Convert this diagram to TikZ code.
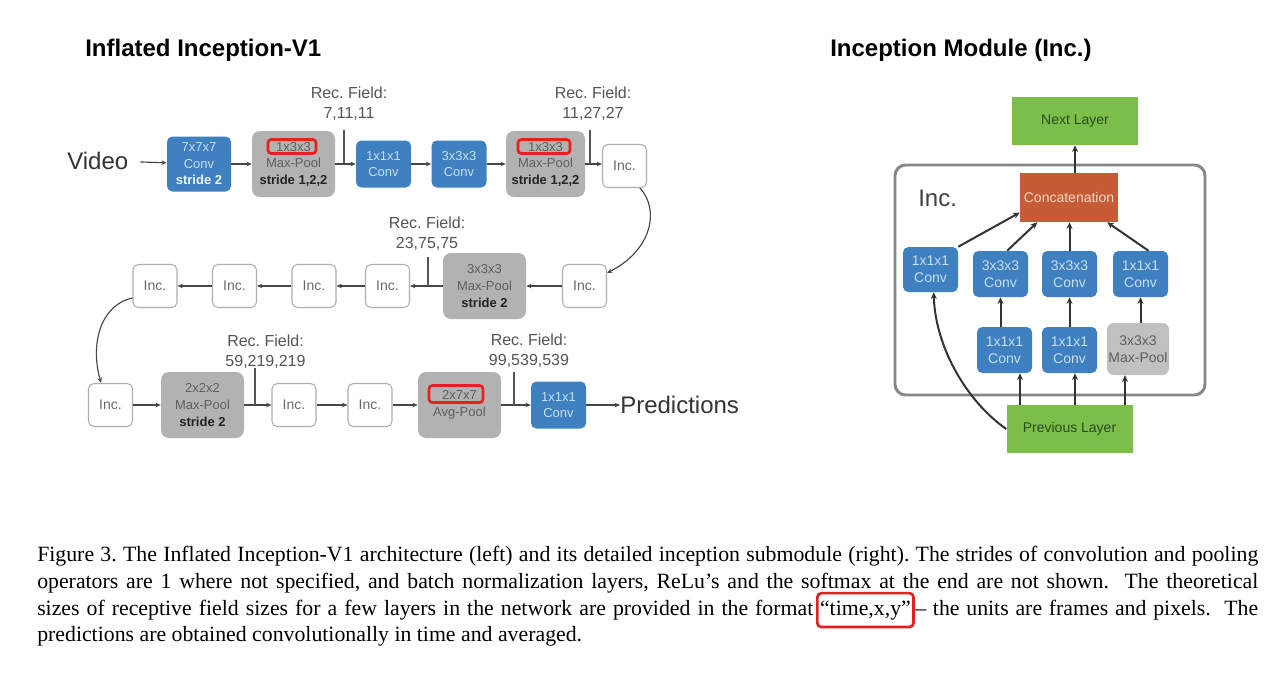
\documentclass[tikz,border=0pt]{standalone}
\usepackage{fontspec}
\setmainfont{Liberation Sans}
\newfontfamily\capfont{Liberation Serif}
\usetikzlibrary{arrows.meta,calc}
\definecolor{cblue}{RGB}{62,128,192}
\definecolor{cbluetxt}{RGB}{200,222,242}
\definecolor{cbluebold}{RGB}{236,244,252}
\definecolor{cgray}{RGB}{178,178,178}
\definecolor{cgraytxt}{RGB}{95,95,95}
\definecolor{cgraybold}{RGB}{35,35,35}
\definecolor{cgrayR}{RGB}{192,192,192}
\definecolor{cinc}{RGB}{175,175,175}
\definecolor{cinctxt}{RGB}{105,105,105}
\definecolor{cgreen}{RGB}{124,190,74}
\definecolor{cgreentxt}{RGB}{40,78,28}
\definecolor{corange}{RGB}{196,92,54}
\definecolor{corangetxt}{RGB}{248,214,198}
\definecolor{cred}{RGB}{228,32,32}
\definecolor{cline}{RGB}{70,70,70}
\definecolor{crf}{RGB}{85,85,85}
\definecolor{couter}{RGB}{135,135,135}
\begin{document}
\frenchspacing
\begin{tikzpicture}[x=0.75pt,y=-0.75pt,
  boxfont/.style={font=\fontsize{9.75pt}{12.4pt}\selectfont},
  rfont/.style={font=\fontsize{10.5pt}{12.75pt}\selectfont},
  bluebox/.style={boxfont, fill=cblue, rounded corners=4pt, text=cbluetxt, align=center, inner sep=0pt, minimum width=41.25pt, minimum height=35.25pt},
  graybox/.style={boxfont, fill=cgray, rounded corners=6pt, text=cgraytxt, align=center, inner sep=0pt, minimum width=62.25pt, minimum height=49.5pt},
  incbox/.style={font=\fontsize{10.5pt}{12pt}\selectfont, draw=cinc, line width=0.8pt, fill=white, rounded corners=4pt, text=cinctxt, inner sep=0pt, minimum width=33pt, minimum height=32.25pt},
  redhl/.style={draw=cred, line width=2pt, rounded corners=2.5pt, inner sep=0pt},
  rflabel/.style={font=\fontsize{12pt}{15pt}\selectfont, text=crf, align=center, inner sep=0pt},
  rfline/.style={draw=crf, line width=0.8pt},
  arr/.style={draw=cline, line width=0.85pt, -{Stealth[length=4pt,width=3.4pt]}},
  arrR/.style={draw=black!80, line width=1.5pt, -{Stealth[length=5pt,width=4.5pt]}},
  rblue/.style={rfont, fill=cblue, rounded corners=4pt, text=cbluetxt, align=center, inner sep=0pt, minimum width=41.25pt, minimum height=34.5pt},
  rgreen/.style={rfont, fill=cgreen, text=cgreentxt, inner sep=0pt, minimum width=94.5pt, minimum height=36pt},
  bigtext/.style={font=\fontsize{18pt}{20pt}\selectfont, text=black!80, inner sep=0pt},
  titletext/.style={font=\fontsize{18pt}{20pt}\selectfont\bfseries, inner sep=0pt},
  capline/.style={font=\capfont\fontsize{16.35pt}{20pt}\selectfont, inner sep=0pt, anchor=base west}
]
\fill[white] (0,0) rectangle (1280,686);
\useasboundingbox (0,0) rectangle (1280,686);

% titles
\node[titletext, anchor=base west] (t1) at (85,56) {Inflated Inception-V1};
\node[titletext, anchor=base west] (t2) at (830,56) {Inception Module (Inc.)};

% ---------- row 1 ----------
\node[bigtext, anchor=base west] (video) at (67,169) {Video};
\node[bluebox, minimum width=48pt, minimum height=41.25pt] (c7) at (199,164) {7x7x7\\Conv\\\textcolor{cbluebold}{\textbf{stride 2}}};
\node[graybox] (mp1) at (293.5,164) {1x3x3\\Max-Pool\\\textcolor{cgraybold}{\textbf{stride 1,2,2}}};
\node[redhl, minimum width=36pt, minimum height=10.5pt] (r1) at ($(mp1.center)+(-1.5,-17.5)$) {};
\node[bluebox] (c1a) at (383.5,164) {1x1x1\\Conv};
\node[bluebox] (c3a) at (459,164) {3x3x3\\Conv};
\node[graybox, minimum width=59.25pt] (mp2) at (545.5,164) {1x3x3\\Max-Pool\\\textcolor{cgraybold}{\textbf{stride 1,2,2}}};
\node[redhl, minimum width=39pt, minimum height=10.5pt] (r2) at ($(mp2.center)+(-1.5,-17.5)$) {};
\node[incbox] (i1) at (624.5,166) {Inc.};

\draw[arr, shorten <=9pt] (video) -- (c7);
\draw[arr] (c7) -- (mp1);
\draw[arr] (mp1) -- (c1a);
\draw[arr] (c1a) -- (c3a);
\draw[arr] (c3a) -- (mp2);
\draw[arr] (mp2.east) -- (mp2.east -| i1.west);

\node[rflabel] (rf1) at (349,104) {Rec. Field:\\7,11,11};
\node[rflabel] (rf2) at (593,104) {Rec. Field:\\11,27,27};
\coordinate (v1) at (344,130);
\coordinate (v2) at (590,130);
\draw[rfline] (v1) -- (v1 |- mp1.east);
\draw[rfline] (v2) -- (v2 |- mp2.east);

% ---------- row 2 ----------
\node[incbox] (i2e) at (584.5,286) {Inc.};
\node[graybox] (mp3) at (484.5,286) {3x3x3\\Max-Pool\\\textcolor{cgraybold}{\textbf{stride 2}}};
\node[incbox] (i2d) at (387.5,286) {Inc.};
\node[incbox] (i2c) at (314,286) {Inc.};
\node[incbox] (i2b) at (234.5,286) {Inc.};
\node[incbox] (i2a) at (155,286) {Inc.};

\draw[arr] (i2e) -- (mp3);
\draw[arr] (mp3) -- (i2d);
\draw[arr] (i2d) -- (i2c);
\draw[arr] (i2c) -- (i2b);
\draw[arr] (i2b) -- (i2a);

\node[rflabel] (rf3) at (427,233.5) {Rec. Field:\\23,75,75};
\coordinate (v3) at (428,257);
\draw[rfline] (v3) -- (v3 |- mp3.west);

\draw[arr] (i1.-55) .. controls (660,210) and (652,250) .. (i2e.30);

% ---------- row 3 ----------
\node[incbox] (i3a) at (110.5,405) {Inc.};
\node[graybox] (mp4) at (202.5,405) {2x2x2\\Max-Pool\\\textcolor{cgraybold}{\textbf{stride 2}}};
\node[incbox] (i3b) at (294,405) {Inc.};
\node[incbox] (i3c) at (370,405) {Inc.};
\node[graybox] (avg) at (459.5,405) {2x7x7\\Avg-Pool};
\node[redhl, minimum width=40.5pt, minimum height=12.75pt] (r3) at ($(avg.center)+(-3.5,-11)$) {};
\node[bluebox] (c1b) at (558.5,405) {1x1x1\\Conv};
\node[bigtext, anchor=base west] (pred) at (620,413.5) {Predictions};

\draw[arr] (i2a.208) .. controls (100,305) and (90,345) .. (i3a.113);
\draw[arr] (i3a) -- (mp4);
\draw[arr] (mp4) -- (i3b);
\draw[arr] (i3b) -- (i3c);
\draw[arr] (i3c) -- (avg);
\draw[arr] (avg) -- (c1b);
\draw[arr] (c1b.east) -- (c1b.east -| pred.west);

\node[rflabel] (rf4) at (265.5,351.5) {Rec. Field:\\59,219,219};
\node[rflabel] (rf5) at (529,351) {Rec. Field:\\99,539,539};
\coordinate (v4) at (255,368);
\coordinate (v5) at (514,372);
\draw[rfline] (v4) -- (v4 |- mp4.east);
\draw[rfline] (v5) -- (v5 |- avg.east);

% ---------- inception module ----------
\draw[draw=couter, line width=2.2pt, rounded corners=8pt] (895,165) rectangle (1205,395);
\node[font=\fontsize{18pt}{20pt}\selectfont, text=black!75, inner sep=0pt, anchor=base west] (inclab) at (918,206.5) {Inc.};

\node[rgreen] (next) at (1075,121) {Next Layer};
\node[rfont, fill=corange, text=corangetxt, inner sep=0pt, minimum width=73.5pt, minimum height=36.75pt] (cat) at (1069,197.5) {Concatenation};
\node[rblue, minimum height=33.75pt] (b1) at (930.5,269.5) {1x1x1\\Conv};
\node[rblue] (b2) at (1000.5,274) {3x3x3\\Conv};
\node[rblue] (b3) at (1069.5,274) {3x3x3\\Conv};
\node[rblue] (b4) at (1140.5,274) {1x1x1\\Conv};
\node[rblue] (ba) at (1004.5,350) {1x1x1\\Conv};
\node[rblue] (bb) at (1069.5,350) {1x1x1\\Conv};
\node[rfont, fill=cgrayR, text=cgraytxt, rounded corners=5pt, align=center, inner sep=0pt, minimum width=46.5pt, minimum height=39pt] (bmp) at (1138,349) {3x3x3\\Max-Pool};
\node[rgreen] (prev) at (1069.5,429) {Previous Layer};

\draw[arrR] (cat.north -| next.south) -- (next.south);
\draw[arrR] (b1.north east) -- (cat.197);
\draw[arrR] (b2.74) -- (cat.218);
\draw[arrR] (b3.north) -- (cat.south -| b3.north);
\draw[arrR] (b4.71) -- (cat.-33);

\draw[arrR] (ba.north -| b2.south) -- (b2.south);
\draw[arrR] (bb.north) -- (bb.north |- b3.south);
\draw[arrR] (bmp.north -| b4.south) -- (b4.south);

\coordinate (pa) at (1020,0);
\coordinate (pb) at (1075,0);
\coordinate (pc) at (1125,0);
\draw[arrR] (prev.north -| pa) -- (ba.south -| pa);
\draw[arrR] (prev.north -| pb) -- (bb.south -| pb);
\draw[arrR] (prev.north -| pc) -- (bmp.south -| pc);
\draw[arrR] (prev.west) .. controls (965,400) and (935,345) .. (b1.-82);

% ---------- caption ----------
\node[capline] (cap1) at (37,561) {\hbox to 915.75pt{Figure 3. The Inflated Inception-V1 architecture (left) and its detailed inception submodule (right). The strides of convolution and pooling}};
\node[capline] (cap2) at (37,588) {\hbox to 915.75pt{operators are 1 where not specified, and batch normalization layers, ReLu’s and the softmax at the end are not shown.\ \ The theoretical}};
\node[capline] (cap3a) at (37,615) {\hbox to 582pt{sizes of receptive field sizes for a few layers in the network are provided in the format}};
\node[capline, draw=cred, line width=2pt, rounded corners=3pt, inner xsep=2pt, inner ysep=5.5pt] (cap3b) at (816,615) {“time,x,y”};
\node[capline] (cap3c) at (915,615) {\hbox to 257.25pt{– the units are frames and pixels.\ \ The}};
\node[capline] (cap4) at (37,641) {predictions are obtained convolutionally in time and averaged.};
\end{tikzpicture}
\end{document}
